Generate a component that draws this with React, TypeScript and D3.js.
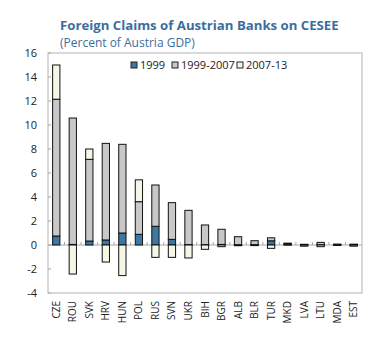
import React from "react";
import * as d3 from "d3";

const countries = ["CZE","ROU","SVK","HRV","HUN","POL","RUS","SVN","UKR","BIH","BGR","ALB","BLR","TUR","MKD","LVA","LTU","MDA","EST"];
const v1999 = [0.75,0.05,0.33,0.42,1.0,0.89,1.56,0.47,0.03,0.02,0.05,0.02,0.02,0.35,0.03,0.02,0.02,0.01,0.02];
const v9907 = [11.4,10.53,6.81,8.05,7.39,2.72,3.44,3.06,2.86,1.65,1.26,0.67,0.34,0.25,0.1,0.04,0.2,0.04,0.05];
const v0713 = [2.85,-2.42,0.86,-1.42,-2.55,1.82,-1.03,-1.03,-1.08,-0.36,-0.14,-0.06,-0.05,-0.28,0.02,-0.1,-0.14,0.02,-0.1];
const seriesNames = ["1999","1999-2007","2007-13"];
const yTicks = [-4,-2,0,2,4,6,8,10,12,14,16];

const colors = ["#3d78a3","#c8c8c8","#f5f7e6"];
const font = "'Open Sans', 'Noto Sans', sans-serif";

export default function App() {
  const W = 380, H = 355;
  const left = 48, right = 362, top = 53, bottom = 293;
  const x = d3.scaleBand<string>().domain(countries).range([left, right]).paddingInner(0.56).paddingOuter(0.28);
  const y = d3.scaleLinear().domain([-4, 16]).range([bottom, top]);
  const keys = ["a","b","c"];
  const rows = countries.map((c, i) => ({ c, a: v1999[i], b: v9907[i], c2: v0713[i] }));
  const data = rows.map(r => ({ name: r.c, a: r.a, b: r.b, c: r.c2 }));
  const stacked = d3.stack<any>().keys(keys).offset(d3.stackOffsetDiverging)(data);
  const step = (right - left) / countries.length;
  const boundaries = d3.range(countries.length + 1).map(i => left + i * step);
  const y0 = y(0);
  const legendItems = [
    { x: 131, label: seriesNames[0] },
    { x: 172, label: seriesNames[1] },
    { x: 237, label: seriesNames[2] },
  ];
  return (
    <div style={{ position: "absolute", left: 0, top: 0 }}>
      <svg width={W} height={H} style={{ display: "block", background: "#fff" }}>
        <text x={60} y={30} fill="#3a6e9e" fontFamily={font} fontWeight="bold" fontSize={13.2}>Foreign Claims of Austrian Banks on CESEE</text>
        <text x={60} y={47} fill="#3a6e9e" fontFamily={font} fontSize={12}>(Percent of Austria GDP)</text>
        <rect x={left} y={top} width={right - left} height={bottom - top} fill="none" stroke="#b4b4b4" strokeWidth={1} />
        {yTicks.map(t => (
          <g key={t}>
            <line x1={left} x2={left + 3} y1={y(t)} y2={y(t)} stroke="#a8a8a8" />
            <text x={37} y={y(t)} dy="0.35em" textAnchor="end" fontFamily={font} fontSize={11} fill="#222">{t}</text>
          </g>
        ))}
        <line x1={left} x2={right} y1={y0} y2={y0} stroke="#a8a8a8" />
        {boundaries.slice(1, -1).map((bx, i) => (
          <line key={i} x1={bx} x2={bx} y1={y0 - 3} y2={y0} stroke="#a8a8a8" />
        ))}
        {stacked.map((s, si) => (
          <g key={si} fill={colors[si]} stroke="#111" strokeWidth={1}>
            {s.map((d, i) => {
              const ya = y(d[1]), yb = y(d[0]);
              const h = Math.abs(yb - ya);
              return <rect key={i} x={x(countries[i])!} y={Math.min(ya, yb)} width={x.bandwidth()} height={Math.max(h, 0.5)} />;
            })}
          </g>
        ))}
        {legendItems.map((it, i) => (
          <g key={i}>
            <rect x={it.x} y={62} width={6} height={6} fill={colors[i]} stroke="#222" strokeWidth={1} />
            <text x={it.x + 9} y={65} dy="0.35em" fontFamily={font} fontSize={11} fill="#222">{it.label}</text>
          </g>
        ))}
        {countries.map(c => {
          const cx = x(c)! + x.bandwidth() / 2;
          return (
            <text key={c} transform={`translate(${cx},301) rotate(-90)`} textAnchor="end" dy="0.35em" fontFamily={font} fontSize={10} fill="#222">{c}</text>
          );
        })}
      </svg>
    </div>
  );
}
